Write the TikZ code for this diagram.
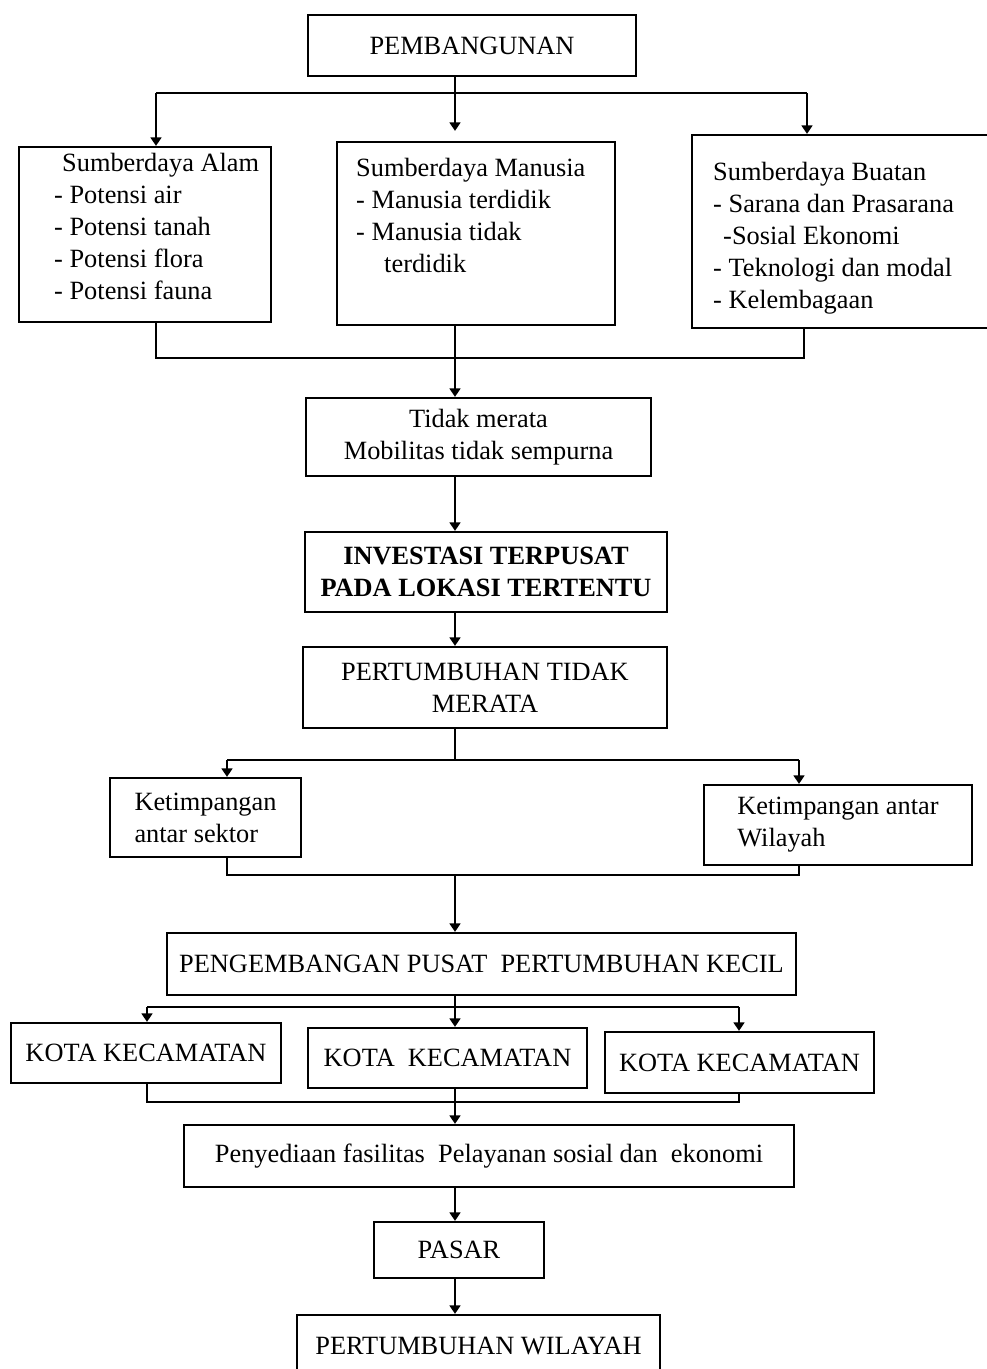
\documentclass[tikz,border=0pt]{standalone}
\usepackage{fontspec}
\setmainfont{Liberation Serif}
\usetikzlibrary{arrows.meta,positioning}

\begin{document}
\begin{tikzpicture}[
    x=0.02cm, y=-0.02cm,
    every node/.style={
        font=\fontsize{15}{18.2}\selectfont
    },
    box/.style={
        draw, line width=1.3pt,
        align=center,
        inner sep=0pt
    },
    txt/.style={
        inner sep=0pt,
        align=left
    },
    conn/.style={line width=0.9pt},
    arr/.style={conn, -{Triangle[length=1.7mm,width=2.2mm]}}
]
\useasboundingbox (0,0) rectangle (987,1369);

\node[box, minimum width=6.56cm, minimum height=1.22cm] (pemb) at (472,45.5) {PEMBANGUNAN};

\node[box, minimum width=5.04cm, minimum height=3.5cm] (alam) at (145,234.5) {};
\node[txt, below right=0.14cm and 0.72cm of alam.north west] (alamtxt)
    {\hspace*{0.16cm}Sumberdaya Alam\\- Potensi air\\- Potensi tanah\\- Potensi flora\\- Potensi fauna};
\node[box, minimum width=5.56cm, minimum height=3.66cm] (manusia) at (476,233.5) {};
\node[txt, below right=0.34cm and 0.4cm of manusia.north west] (manusiatxt)
    {Sumberdaya Manusia\\- Manusia terdidik\\- Manusia tidak\\\hspace*{0.56cm}terdidik};
\node[box, minimum width=6.36cm, minimum height=3.86cm] (buatan) at (851,231.5) {};
\node[txt, below right=0.56cm and 0.44cm of buatan.north west] (buatantxt)
    {Sumberdaya Buatan\\- Sarana dan Prasarana\\\hspace*{0.2cm}-Sosial Ekonomi\\- Teknologi dan modal\\- Kelembagaan};

\node[box, minimum width=6.9cm, minimum height=1.56cm] (tidak) at (478.5,437) {Tidak merata\\Mobilitas tidak sempurna};
\node[box, font=\fontsize{15}{18.2}\selectfont\bfseries, minimum width=7.24cm, minimum height=1.6cm] (invest) at (486,572)
    {INVESTASI TERPUSAT\\PADA LOKASI TERTENTU};
\node[box, minimum width=7.28cm, minimum height=1.62cm] (tumbuh) at (485,687.5) {PERTUMBUHAN TIDAK\\MERATA};
\node[box, align=left, minimum width=3.82cm, minimum height=1.58cm] (sektor) at (205.5,817.5) {Ketimpangan\\antar sektor};
\node[box, align=left, minimum width=5.36cm, minimum height=1.6cm] (wilayah) at (838,825) {Ketimpangan antar\\Wilayah};
\node[box, minimum width=12.58cm, minimum height=1.24cm] (kembang) at (481.5,964) {PENGEMBANGAN PUSAT~ PERTUMBUHAN KECIL};
\node[box, minimum width=5.4cm, minimum height=1.2cm] (kota1) at (146,1053) {KOTA KECAMATAN};
\node[box, minimum width=5.58cm, minimum height=1.2cm] (kota2) at (447.5,1058) {KOTA~ KECAMATAN};
\node[box, minimum width=5.38cm, minimum height=1.22cm] (kota3) at (739.5,1062.5) {KOTA KECAMATAN};
\node[box, minimum width=12.2cm, minimum height=1.24cm] (fasil) at (489,1156) {Penyediaan fasilitas~ Pelayanan sosial dan~ ekonomi};
\node[box, minimum width=3.4cm, minimum height=1.12cm] (pasar) at (459,1250) {PASAR};
\node[box, minimum width=7.26cm, minimum height=1.24cm] (wil) at (478.5,1346) {PERTUMBUHAN WILAYAH};

\coordinate (spine) at (455,0);
\coordinate (a1) at (156,93);
\coordinate (a2) at (807,93);
\draw[conn] (a1) -- (a2);
\draw[arr, shorten >=0.2cm] (pemb.south -| spine) -- (manusia.north -| spine);
\draw[arr] (a1) -- (alam.north -| a1);
\draw[arr] (a2) -- (buatan.north -| a2);

\coordinate (b1) at (156,358);
\coordinate (b2) at (804,358);
\draw[conn] (alam.south -| b1) -- (b1) -- (b2) -- (buatan.south -| b2);
\draw[arr] (manusia.south -| spine) -- (tidak.north -| spine);
\draw[arr] (tidak.south -| spine) -- (invest.north -| spine);
\draw[arr] (invest.south -| spine) -- (tumbuh.north -| spine);

\coordinate (c1) at (227,760);
\coordinate (c2) at (799,760);
\draw[conn] (tumbuh.south -| spine) -- (spine |- c1);
\draw[conn] (c1) -- (c2);
\draw[arr] (c1) -- (sektor.north -| c1);
\draw[arr] (c2) -- (wilayah.north -| c2);

\coordinate (d1) at (227,875);
\coordinate (d2) at (799,875);
\draw[conn] (sektor.south -| d1) -- (d1) -- (d2) -- (wilayah.south -| d2);
\draw[arr] (spine |- d1) -- (kembang.north -| spine);

\coordinate (e1) at (147,1007);
\coordinate (e2) at (739,1007);
\draw[conn] (kembang.south -| spine) -- (spine |- e1);
\draw[conn] (e1) -- (e2);
\draw[arr] (e1) -- (kota1.north -| e1);
\draw[arr] (spine |- e1) -- (kota2.north -| spine);
\draw[arr] (e2) -- (kota3.north -| e2);

\coordinate (f1) at (147,1102);
\coordinate (f2) at (739,1102);
\draw[conn] (kota1.south -| f1) -- (f1) -- (f2) -- (kota3.south -| f2);
\draw[arr] (kota2.south -| spine) -- (fasil.north -| spine);
\draw[arr] (fasil.south -| spine) -- (pasar.north -| spine);
\draw[arr] (pasar.south -| spine) -- (wil.north -| spine);
\end{tikzpicture}
\end{document}
